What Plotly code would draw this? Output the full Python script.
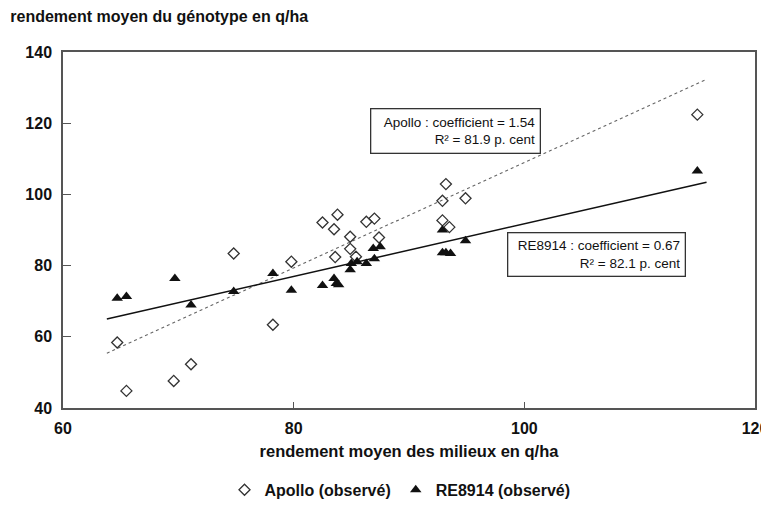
import plotly.graph_objects as go

# Rendement moyen des milieux (x) et du génotype (y), en q/ha
apollo_x = [64.7, 65.5, 69.6, 71.1, 74.8, 78.2, 79.8, 82.5, 83.8, 83.5, 83.6, 84.9,
            84.9, 85.4, 86.3, 87.0, 87.4, 93.2, 92.9, 94.9, 92.9, 93.5, 115.0]
apollo_y = [58.4, 44.8, 47.6, 52.3, 83.4, 63.4, 81.1, 92.1, 94.3, 90.2, 82.4, 88.1,
            84.7, 82.5, 92.3, 93.2, 87.9, 102.9, 98.2, 98.9, 92.7, 90.8, 122.4]

re_x = [64.7, 65.5, 69.7, 71.1, 74.8, 78.2, 79.8, 82.5, 83.5, 83.7, 83.9, 84.9,
        85.0, 85.5, 86.3, 87.0, 86.9, 87.5, 92.9, 92.9, 93.2, 93.6, 94.9, 115.0]
re_y = [70.8, 71.3, 76.4, 68.9, 72.7, 77.8, 73.1, 74.4, 76.4, 75.0, 74.6, 78.8,
        80.6, 81.1, 80.6, 81.9, 84.8, 85.3, 90.0, 83.6, 83.6, 83.4, 87.0, 106.6]

# droites de régression (extrémités)
fit_x = [63.8, 115.8]
apollo_fit_y = [55.4, 132.3]
re_fit_y = [65.0, 103.4]

FONT = "Liberation Sans, Arial, sans-serif"
INK = "#111111"

fig = go.Figure()

fig.add_trace(go.Scatter(x=fit_x, y=apollo_fit_y, mode="lines", showlegend=False,
                         line=dict(color="#666666", width=1.1, dash="dot"), hoverinfo="skip"))
fig.add_trace(go.Scatter(x=fit_x, y=re_fit_y, mode="lines", showlegend=False,
                         line=dict(color=INK, width=1.5), hoverinfo="skip"))

fig.add_trace(go.Scatter(
    x=apollo_x, y=apollo_y, mode="markers", name="Apollo (observé)",
    marker=dict(symbol="diamond-open", size=8.5, color="#333333", line=dict(width=1.3, color="#333333")),
))
fig.add_trace(go.Scatter(
    x=re_x, y=re_y, mode="markers", name="RE8914 (observé)",
    marker=dict(symbol="triangle-up", size=10, color=INK),
))

box = dict(showarrow=False, align="right", bordercolor="#333333", borderwidth=1.3,
           borderpad=4, bgcolor="white", font=dict(family=FONT, size=13.5, color=INK))
fig.add_annotation(x=94.07, y=117.95, xref="x", yref="y", width=160, height=35,
                   text="Apollo : coefficient = 1.54<br>R² = 81.9 p. cent", **box)
fig.add_annotation(x=106.27, y=83.1, xref="x", yref="y", width=168, height=34,
                   text="RE8914 : coefficient = 0.67<br>R² = 82.1 p. cent", **box)

# la page ajoute une marge de 8 px autour de la figure : on réduit la taille
# pour éviter la barre de défilement
fig.update_layout(
    width=761, height=492,
    margin=dict(l=55, r=14, t=44, b=92, autoexpand=False),
    paper_bgcolor="white", plot_bgcolor="white",
    font=dict(family=FONT, size=16, color=INK),
    title=dict(text="rendement moyen du génotype en q/ha", x=0.003, xanchor="left",
               y=0.982, yanchor="middle", font=dict(family=FONT, size=16, color=INK, weight="bold")),
    showlegend=True,
    legend=dict(orientation="h", x=0.487, xanchor="center", y=-0.23, yanchor="middle",
                font=dict(family=FONT, size=16, color=INK, weight="bold"), itemwidth=30),
)

fig.update_xaxes(
    range=[60, 120], dtick=20, showgrid=False, zeroline=False, automargin=False,
    showline=True, mirror=True, linecolor="#555555", linewidth=1.5,
    ticks="inside", ticklen=6, tickcolor="#555555", ticklabeloverflow="allow",
    tickfont=dict(family=FONT, size=16, color=INK, weight="bold"), ticklabelstandoff=5,
    title=dict(text="rendement moyen des milieux en q/ha", standoff=9,
               font=dict(family=FONT, size=16.5, color=INK, weight="bold")),
)
fig.update_yaxes(
    range=[40, 140], dtick=20, showgrid=False, zeroline=False, automargin=False,
    showline=True, mirror=True, linecolor="#555555", linewidth=1.5,
    ticks="inside", ticklen=8, tickcolor="#555555", ticklabeloverflow="allow",
    tickfont=dict(family=FONT, size=16, color=INK, weight="bold"), ticklabelstandoff=6,
)

fig.write_html("out.html")
